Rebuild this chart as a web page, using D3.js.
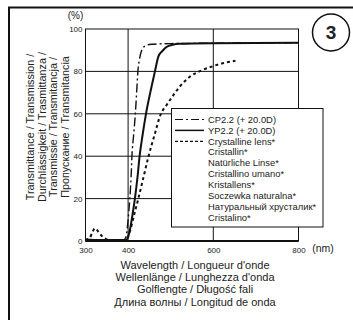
<!DOCTYPE html>
<html>
<head>
<meta charset="utf-8">
<script src="https://cdn.jsdelivr.net/npm/d3@7"></script>
<style>
  body { margin: 0; background: #fff; }
  text { font-family: "Liberation Sans", Arial, sans-serif; fill: #222; }
</style>
</head>
<body>
<div id="chart-area"></div>
<script>
// data (wavelength nm / transmittance %)
var cpWl = [300, 350, 390, 395, 400, 404, 407, 409, 413, 417, 420, 423, 427, 432, 440, 455, 500, 600, 800];
var cpT  = [0.8, 0.5, 0.5, 2, 10, 20, 30, 40, 50, 60, 70, 80, 86, 90, 92, 92.8, 93.1, 93.3, 93.5];

var ypWl = [300, 350, 395, 400, 405, 410, 416, 422, 427, 434, 442, 452, 463, 471, 480, 490, 505, 520, 600, 800];
var ypT  = [0.5, 0.5, 0.5, 2, 6, 12, 20, 30, 40, 50, 60, 70, 80, 87, 89.5, 91.5, 92.6, 93, 93.3, 93.5];

var lensWl = [300, 310, 316, 322, 330, 340, 350, 360, 390, 395, 400, 405, 415, 424, 436, 448, 462, 477, 490, 500, 522, 545, 573, 600, 625, 652];
var lensT  = [0.5, 1.5, 4, 6, 4.5, 2, 0.8, 0.3, 0.3, 0.5, 2, 5, 13, 20, 30, 40, 50, 60, 64, 67, 73, 77.5, 80.5, 82.5, 84, 85];

var xTicks = [300, 400, 600, 800];
var yTicks = [0, 20, 40, 60, 80, 100];
var xGrid = [400, 600];
var yGrid = [20, 40, 60, 80];

var legendNames = ["CP2.2 (+ 20.0D)", "YP2.2 (+ 20.0D)", "Crystalline lens*", "Cristallin*",
    "Natürliche Linse*", "Cristallino umano*", "Kristallens*", "Soczewka naturalna*",
    "Натуральный хрусталик*", "Cristalino*"];
var yTitle = ["Transmittance / Transmission /", "Durchlässigkeit / Trasmittanza /",
    "Transmissie / Transmitancja /", "Пропускание / Transmitancia"];
var xTitle = ["Wavelength / Longueur d'onde", "Wellenlänge / Lunghezza d'onda",
    "Golflengte / Długość fali", "Длина волны / Longitud de onda"];

var W = 353, H = 320;
var svg = d3.select("#chart-area").append("svg")
    .attr("width", W).attr("height", H);

var x = d3.scaleLinear().domain([300, 800]).range([85.5, 298.5]);
var y = d3.scaleLinear().domain([0, 100]).range([241, 29]);

// outer frame (left + top)
svg.append("line").attr("x1", 9).attr("x2", 9).attr("y1", 7).attr("y2", H)
    .attr("stroke", "#111").attr("stroke-width", 2);
svg.append("line").attr("x1", 8).attr("x2", W).attr("y1", 7.5).attr("y2", 7.5)
    .attr("stroke", "#111").attr("stroke-width", 2);

// circled number
svg.append("circle").attr("cx", 331).attr("cy", 32.5).attr("r", 18.5)
    .attr("fill", "none").attr("stroke", "#111").attr("stroke-width", 1.5);
svg.append("text").attr("x", 331).attr("y", 32.5)
    .attr("text-anchor", "middle").attr("dy", "0.36em")
    .attr("font-size", "19px").attr("font-weight", "bold").text("3");

// grid
var g = svg.append("g");
g.selectAll(".xg").data(xGrid).enter().append("line")
    .attr("x1", d => x(d)).attr("x2", d => x(d))
    .attr("y1", y(0)).attr("y2", y(100))
    .attr("stroke", "#111").attr("stroke-width", 1);
g.selectAll(".yg").data(yGrid).enter().append("line")
    .attr("x1", x(300)).attr("x2", x(800))
    .attr("y1", d => y(d)).attr("y2", d => y(d))
    .attr("stroke", "#111").attr("stroke-width", 1);
g.append("rect").attr("x", x(300)).attr("y", y(100))
    .attr("width", x(800) - x(300)).attr("height", y(0) - y(100))
    .attr("fill", "none").attr("stroke", "#111").attr("stroke-width", 1);
g.append("line").attr("x1", x(300)).attr("x2", x(800))
    .attr("y1", y(0)).attr("y2", y(0))
    .attr("stroke", "#111").attr("stroke-width", 1.8);

// axes (labels only)
var yAxisCall = d3.axisLeft(y).tickValues(yTicks).tickSize(0).tickPadding(3);
svg.append("g").attr("transform", "translate(" + x(300) + ",0)")
    .call(yAxisCall)
    .call(a => a.select(".domain").remove())
    .selectAll("text").attr("font-size", "8px").attr("fill", "#222")
    .style("font-family", "Liberation Sans, Arial, sans-serif");

var xAxisCall = d3.axisBottom(x).tickValues(xTicks).tickSize(0).tickPadding(6);
svg.append("g").attr("transform", "translate(0," + y(0) + ")")
    .call(xAxisCall)
    .call(a => a.select(".domain").remove())
    .selectAll("text").attr("font-size", "8px").attr("fill", "#222")
    .style("font-family", "Liberation Sans, Arial, sans-serif");

svg.append("text").attr("x", 75.5).attr("y", 15).attr("dy", "0.35em")
    .attr("text-anchor", "middle").attr("font-size", "10px").text("(%)");
svg.append("text").attr("x", 323).attr("y", 248.5).attr("dy", "0.35em")
    .attr("text-anchor", "middle").attr("font-size", "10.5px").text("(nm)");

// curves
var line = d3.line().curve(d3.curveMonotoneX)
    .x(d => x(d[0])).y(d => y(d[1]));
function pairs(a, b) { return a.map((v, i) => [v, b[i]]); }

svg.append("path").attr("d", line(pairs(lensWl, lensT)))
    .attr("fill", "none").attr("stroke", "#111").attr("stroke-width", 2)
    .attr("stroke-dasharray", "3,3");
svg.append("path").attr("d", line(pairs(cpWl, cpT)))
    .attr("fill", "none").attr("stroke", "#111").attr("stroke-width", 1.4)
    .attr("stroke-dasharray", "9,3,2,3");
svg.append("path").attr("d", line(pairs(ypWl, ypT)))
    .attr("fill", "none").attr("stroke", "#111").attr("stroke-width", 2);

// legend
var lg = svg.append("g");
lg.append("rect").attr("x", 171.5).attr("y", 108.5).attr("width", 151.5).attr("height", 118.5)
    .attr("fill", "#fff").attr("stroke", "#111").attr("stroke-width", 1);
var rowY = d3.scaleLinear().domain([0, 9]).range([119.5, 217.5]);
var styles = [{w: 1.2, dash: "8,3,2,3"}, {w: 1.5, dash: null}, {w: 1.2, dash: "3,2"}];
styles.forEach(function(s, i) {
    lg.append("line").attr("x1", 175).attr("x2", 204)
        .attr("y1", rowY(i)).attr("y2", rowY(i))
        .attr("stroke", "#111").attr("stroke-width", s.w)
        .attr("stroke-dasharray", s.dash);
});
lg.selectAll(".lt").data(legendNames).enter().append("text")
    .attr("x", 208).attr("y", (d, i) => rowY(i)).attr("dy", "0.35em")
    .attr("font-size", "9.4px").text(d => d);

// axis titles
svg.append("g").selectAll("text").data(yTitle).enter().append("text")
    .attr("transform", (d, i) => "translate(" + (30 + i * 11.8) + ",127) rotate(-90)")
    .attr("text-anchor", "middle").attr("dy", "0.35em")
    .attr("font-size", "10.8px").text(d => d);
svg.append("g").selectAll("text").data(xTitle).enter().append("text")
    .attr("x", 195).attr("y", (d, i) => 265 + i * 12.3).attr("dy", "0.35em")
    .attr("text-anchor", "middle").attr("font-size", "11px").text(d => d);
</script>
</body>
</html>
